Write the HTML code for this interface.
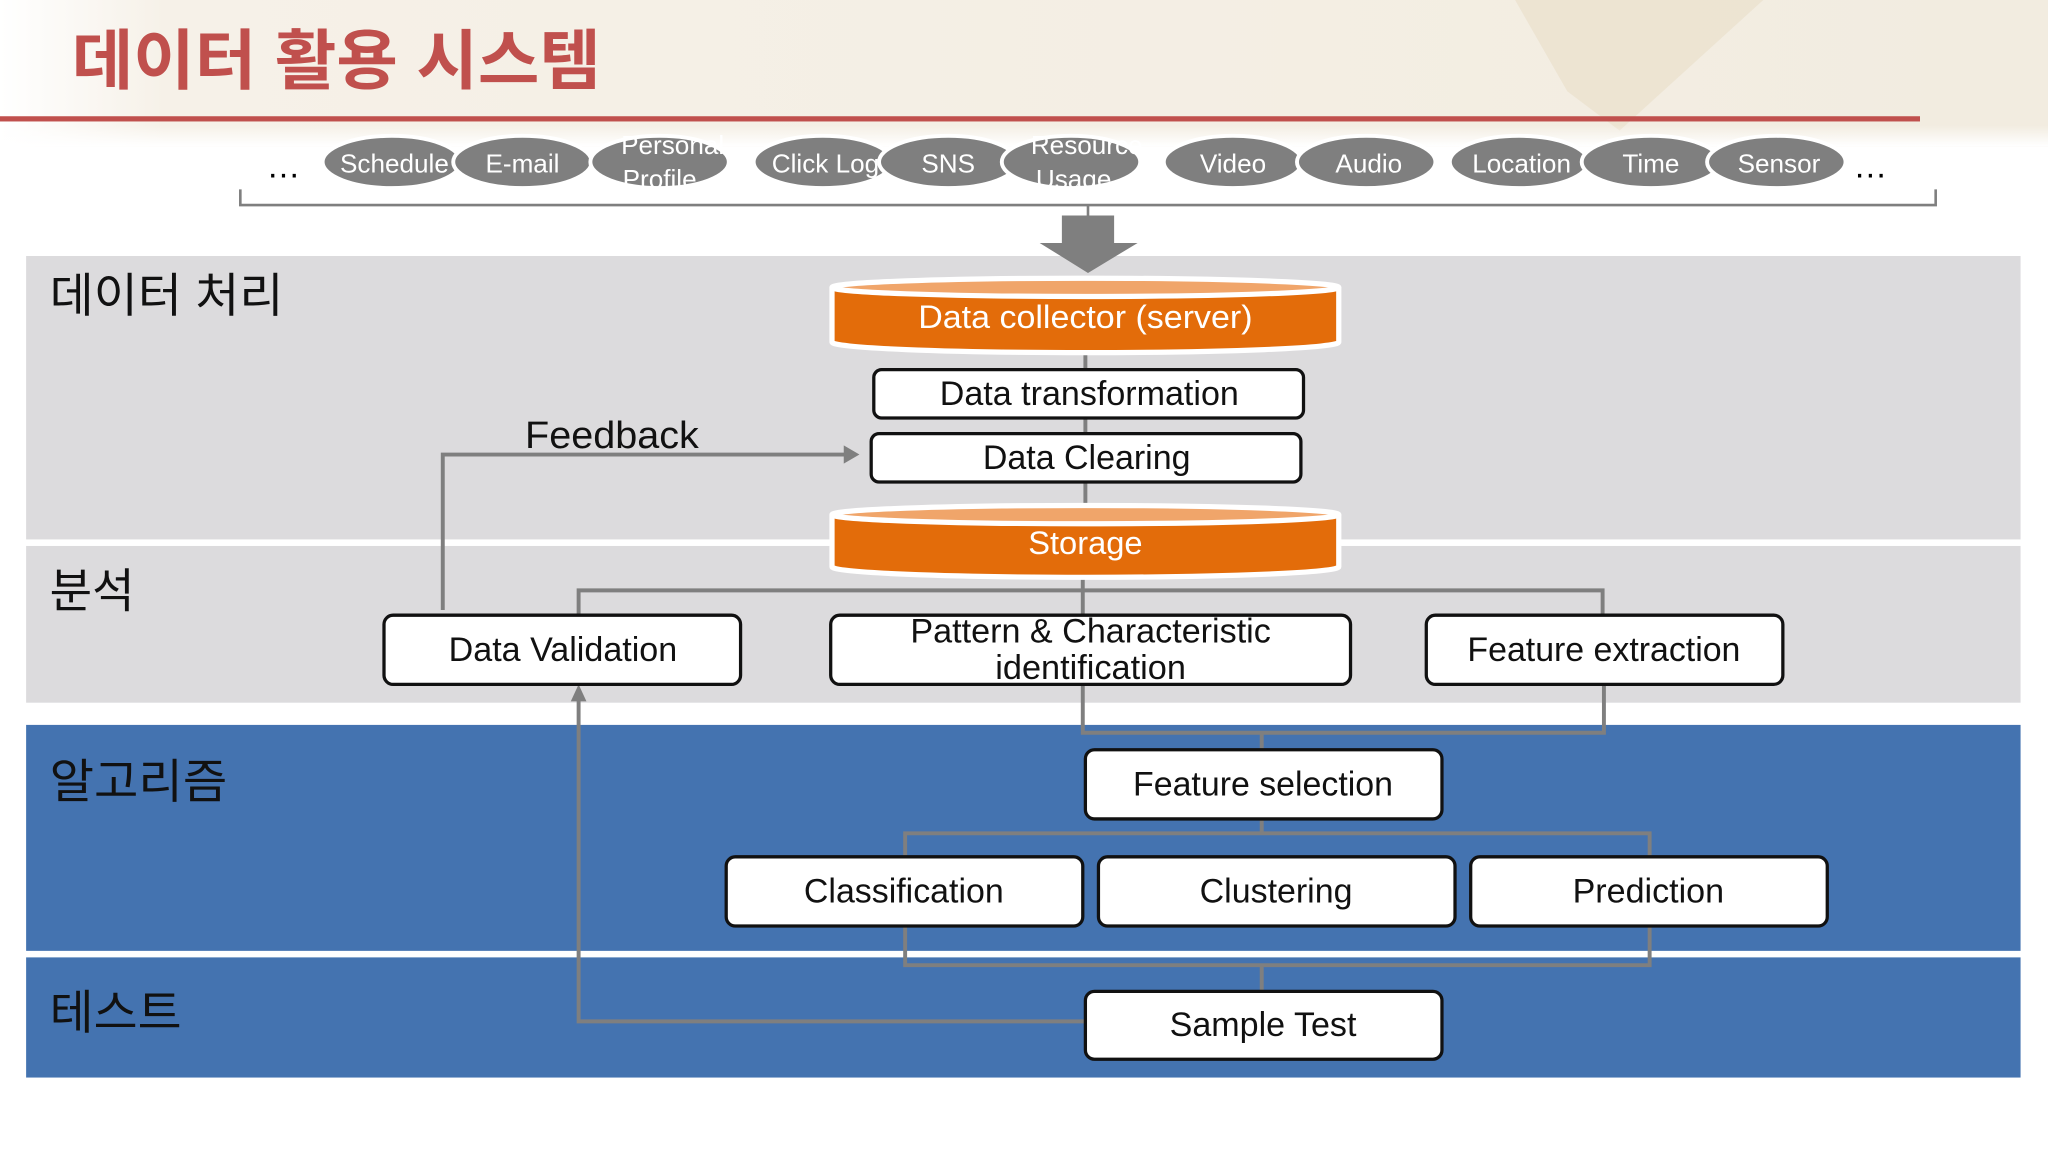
<!DOCTYPE html>
<html><head><meta charset="utf-8"><style>
html,body{margin:0;padding:0;background:#fff;}
svg{display:block;}
text{font-family:"Liberation Sans","Noto Sans CJK KR",sans-serif;}
</style></head><body>
<svg width="2048" height="1152" viewBox="0 0 1568 882" xmlns="http://www.w3.org/2000/svg">
<defs>
<linearGradient id="bg" x1="0" y1="0" x2="1" y2="0">
<stop offset="0" stop-color="#ffffff"/><stop offset="0.08" stop-color="#f6f1e8"/><stop offset="1" stop-color="#f2ece0"/>
</linearGradient>
<linearGradient id="fade" x1="0" y1="0" x2="0" y2="1">
<stop offset="0" stop-color="#fff" stop-opacity="0"/><stop offset="1" stop-color="#fff" stop-opacity="1"/>
</linearGradient>
</defs>
<rect x="0" y="0" width="1568" height="112" fill="url(#bg)"/>
<polygon points="1160,0 1350,0 1240,100 1200,70" fill="#e9dfcc" opacity="0.7"/>
<rect x="0" y="96" width="1568" height="16" fill="url(#fade)"/>
<text x="55" y="64" font-size="50" font-weight="bold" fill="#c0504d" textLength="405" lengthAdjust="spacingAndGlyphs">데이터 활용 시스템</text>
<rect x="0" y="89" width="1470" height="4" fill="#c0504d"/>

<g font-size="20" fill="#fff" text-anchor="middle" stroke="none">
<g stroke="#fff" stroke-width="3" fill="#7f7f7f">
<ellipse cx="300" cy="124" rx="53" ry="20"/><ellipse cx="400" cy="124" rx="53" ry="20"/>
<ellipse cx="505" cy="124" rx="53" ry="20"/><ellipse cx="630" cy="124" rx="53" ry="20"/>
<ellipse cx="726" cy="124" rx="53" ry="20"/><ellipse cx="820" cy="124" rx="53" ry="20"/>
<ellipse cx="944" cy="124" rx="53" ry="20"/><ellipse cx="1046" cy="124" rx="53" ry="20"/>
<ellipse cx="1163" cy="124" rx="53" ry="20"/><ellipse cx="1264" cy="124" rx="53" ry="20"/>
<ellipse cx="1360" cy="124" rx="53" ry="20"/>
</g>
<text x="302" y="132">Schedule</text><text x="400" y="132">E-mail</text>
<text x="515" y="118">Personal</text><text x="505" y="144">Profile</text>
<text x="632" y="132">Click Log</text><text x="726" y="132">SNS</text>
<text x="832" y="118">Resource</text><text x="822" y="144">Usage</text>
<text x="944" y="132">Video</text><text x="1048" y="132">Audio</text>
<text x="1165" y="132">Location</text><text x="1264" y="132">Time</text><text x="1362" y="132">Sensor</text>
</g>
<text x="217" y="136" font-size="26" text-anchor="middle">…</text>
<text x="1432" y="136" font-size="26" text-anchor="middle">…</text>
<path d="M184,145 V157 H1482 V145" fill="none" stroke="#7f7f7f" stroke-width="2"/>
<path d="M833,157 V166" stroke="#7f7f7f" stroke-width="2"/>

<rect x="20" y="196" width="1527" height="217" fill="#dcdbdd"/>
<rect x="20" y="418" width="1527" height="120" fill="#dcdbdd"/>
<rect x="20" y="555" width="1527" height="173" fill="#4473b0"/>
<rect x="20" y="733" width="1527" height="92" fill="#4473b0"/>
<polygon points="813,165 853,165 853,186 871,186 833,209 796,186 813,186" fill="#7f7f7f"/>
<g font-size="36" fill="#111">
<text x="38" y="239" textLength="179" lengthAdjust="spacingAndGlyphs">데이터 처리</text>
<text x="38" y="465" textLength="65" lengthAdjust="spacingAndGlyphs">분석</text>
<text x="38" y="611" textLength="136" lengthAdjust="spacingAndGlyphs">알고리즘</text>
<text x="38" y="788" textLength="101" lengthAdjust="spacingAndGlyphs">테스트</text>
</g>

<g stroke="#7f7f7f" stroke-width="3" fill="none">
<path d="M831,262 V395"/>
<path d="M339,467 V348 H648"/>
<path d="M443,471 V452 H1227 V471 M829,438 V471"/>
<path d="M829,524 V561 H1228 V524 M966,561 V574"/>
<path d="M966,627 V638 M693,656 V638 H1263 V656"/>
<path d="M693,709 V739 H1263 V709 M966,739 V759"/>
<path d="M831,782 H443 V534"/>
</g>
<polygon points="658,348 646,341 646,355" fill="#7f7f7f"/>
<polygon points="443,524 437,537 449,537" fill="#7f7f7f"/>
<text x="402" y="343" font-size="29" fill="#111" textLength="133" lengthAdjust="spacingAndGlyphs">Feedback</text>

<g>
<path d="M637,220 V262 A194,8 0 0 0 1025,262 V220" fill="#e36c0a" stroke="#fff" stroke-width="4"/>
<ellipse cx="831" cy="220" rx="194" ry="7" fill="#f0a56a" stroke="#fff" stroke-width="4"/>
<text x="831" y="251" font-size="25" fill="#fff" text-anchor="middle" textLength="256" lengthAdjust="spacingAndGlyphs">Data collector (server)</text>
<path d="M637,394 V434 A194,8 0 0 0 1025,434 V394" fill="#e36c0a" stroke="#fff" stroke-width="4"/>
<ellipse cx="831" cy="394" rx="194" ry="7" fill="#f0a56a" stroke="#fff" stroke-width="4"/>
<text x="831" y="424" font-size="25" fill="#fff" text-anchor="middle">Storage</text>
</g>

<g fill="#fff" stroke="#111" stroke-width="2.5">
<rect x="669" y="283" width="329" height="37" rx="6"/>
<rect x="667" y="332" width="329" height="37" rx="6"/>
<rect x="294" y="471" width="273" height="53" rx="7"/>
<rect x="636" y="471" width="398" height="53" rx="7"/>
<rect x="1092" y="471" width="273" height="53" rx="7"/>
<rect x="831" y="574" width="273" height="53" rx="7"/>
<rect x="556" y="656" width="273" height="53" rx="7"/>
<rect x="841" y="656" width="273" height="53" rx="7"/>
<rect x="1126" y="656" width="273" height="53" rx="7"/>
<rect x="831" y="759" width="273" height="52" rx="7"/>
</g>
<g font-size="26" fill="#111" text-anchor="middle">
<text x="834" y="310" textLength="229" lengthAdjust="spacingAndGlyphs">Data transformation</text>
<text x="832" y="359" textLength="159" lengthAdjust="spacingAndGlyphs">Data Clearing</text>
<text x="431" y="506" textLength="175" lengthAdjust="spacingAndGlyphs">Data Validation</text>
<text x="835" y="492" textLength="276" lengthAdjust="spacingAndGlyphs">Pattern &amp; Characteristic</text>
<text x="835" y="520" textLength="146" lengthAdjust="spacingAndGlyphs">identification</text>
<text x="1228" y="506" textLength="209" lengthAdjust="spacingAndGlyphs">Feature extraction</text>
<text x="967" y="609" textLength="199" lengthAdjust="spacingAndGlyphs">Feature selection</text>
<text x="692" y="691" textLength="153" lengthAdjust="spacingAndGlyphs">Classification</text>
<text x="977" y="691" textLength="117" lengthAdjust="spacingAndGlyphs">Clustering</text>
<text x="1262" y="691" textLength="116" lengthAdjust="spacingAndGlyphs">Prediction</text>
<text x="967" y="793" textLength="143" lengthAdjust="spacingAndGlyphs">Sample Test</text>
</g>
</svg>
</body></html>
